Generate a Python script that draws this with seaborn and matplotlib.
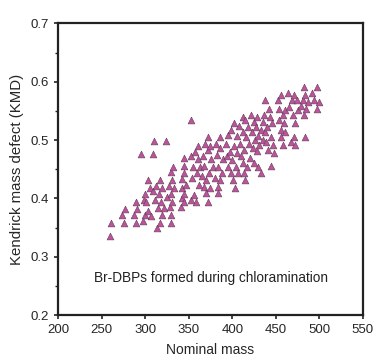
import matplotlib
matplotlib.use("Agg")
import matplotlib.pyplot as plt
import seaborn as sns
import pandas as pd
from matplotlib.ticker import MultipleLocator

# Nominal mass vs Kendrick mass defect
nominal_mass = [
    259, 261, 275, 273, 277, 289, 289, 287, 291, 297, 298, 300, 300, 303, 303, 305,
    301, 307, 309, 311, 312, 314, 315, 316, 317, 317, 318, 319, 319, 321, 325, 327,
    328, 329, 329, 330, 330, 331, 332, 331, 333,
    310, 324, 309, 295, 353,
    341, 342, 342, 344, 342, 344, 345, 345, 345, 347, 353, 352, 354, 355, 357, 356,
    358, 359, 360, 361, 362, 363, 365, 366, 367, 368, 369, 370, 370, 372, 372, 372,
    373, 374, 374, 376, 378, 380, 381, 382, 383, 384, 384, 386, 386, 386, 388, 389,
    393, 394, 395, 395, 397, 398, 399, 400, 401, 402, 402, 403, 404, 405, 405, 407,
    408, 409, 410, 412, 412, 412, 414, 414, 415, 415, 416, 417, 418, 419, 420, 422,
    423, 424, 425, 425, 426, 427, 428, 428, 430, 430, 431, 433, 433, 435, 435, 436,
    438, 438, 439, 440, 441, 442, 443, 444, 445, 446, 447, 448,
    453, 454, 454, 456, 456, 456, 458, 458, 459, 460, 461, 464, 465, 467, 469, 470,
    471, 471, 472, 472, 474, 475, 479, 481, 482, 482, 484, 485, 484, 487, 492, 494,
    497, 497, 500,
]
kmd = [
    0.336, 0.358, 0.358, 0.371, 0.381, 0.358, 0.394, 0.371, 0.381, 0.362, 0.398, 0.407,
    0.371, 0.379, 0.431, 0.417, 0.393, 0.369, 0.412, 0.398, 0.422, 0.349, 0.383, 0.407,
    0.358, 0.431, 0.393, 0.371, 0.417, 0.383, 0.403, 0.422, 0.386, 0.371, 0.446, 0.358,
    0.408, 0.431, 0.454, 0.394, 0.417,
    0.499, 0.499, 0.476, 0.476, 0.535,
    0.386, 0.400, 0.434, 0.455, 0.417, 0.469, 0.408, 0.394, 0.443, 0.423, 0.472, 0.398,
    0.435, 0.454, 0.480, 0.406, 0.394, 0.443, 0.489, 0.467, 0.423, 0.454, 0.439, 0.472,
    0.420, 0.455, 0.494, 0.409, 0.431, 0.394, 0.505, 0.483, 0.443, 0.417, 0.489, 0.467,
    0.454, 0.435, 0.494, 0.474, 0.420, 0.409, 0.454, 0.505, 0.431, 0.486, 0.443, 0.467,
    0.494, 0.472, 0.509, 0.454, 0.480, 0.443, 0.517, 0.466, 0.431, 0.489, 0.529, 0.418,
    0.454, 0.507, 0.477, 0.443, 0.524, 0.494, 0.472, 0.460, 0.540, 0.513, 0.444, 0.483,
    0.431, 0.534, 0.505, 0.454, 0.523, 0.494, 0.469, 0.543, 0.513, 0.486, 0.531, 0.460,
    0.500, 0.523, 0.482, 0.540, 0.454, 0.507, 0.491, 0.443, 0.517, 0.531, 0.500, 0.543,
    0.569, 0.514, 0.496, 0.523, 0.483, 0.554, 0.540, 0.455, 0.505, 0.529, 0.491, 0.477,
    0.569, 0.534, 0.554, 0.517, 0.506, 0.577, 0.543, 0.491, 0.529, 0.514, 0.551, 0.581,
    0.556, 0.497, 0.569, 0.543, 0.577, 0.506, 0.491, 0.529, 0.568, 0.551, 0.558, 0.568,
    0.591, 0.543, 0.506, 0.554, 0.577, 0.566, 0.581, 0.569, 0.591, 0.554, 0.566,
]

df = pd.DataFrame({"Nominal mass": nominal_mass, "KMD": kmd})

sns.set_style("ticks")
plt.rcParams["font.family"] = ["Liberation Sans", "DejaVu Sans"]

fig = plt.figure(figsize=(3.76, 3.57), dpi=100)
ax = fig.add_axes([0.155, 0.1176, 0.81, 0.817])

sns.scatterplot(data=df, x="Nominal mass", y="KMD", marker="^", s=24,
                color="#c0529d", edgecolor="#5a4252", linewidth=0.4, ax=ax)

ax.set_xlim(200, 550)
ax.set_ylim(0.2, 0.7)
ax.xaxis.set_major_locator(MultipleLocator(50))
ax.yaxis.set_major_locator(MultipleLocator(0.1))
ax.yaxis.set_minor_locator(MultipleLocator(0.05))
ax.tick_params(which="major", length=3.2, width=1.2, labelsize=9.5,
               color="#222222", pad=3.5)
ax.tick_params(which="minor", length=2, width=1.0, color="#222222")
for sp in ax.spines.values():
    sp.set_linewidth(1.6)
    sp.set_color("#222222")

ax.set_xlabel("Nominal mass", fontsize=10, labelpad=4.5)
ax.set_ylabel("Kendrick mass defect (KMD)", fontsize=10.8, labelpad=5)
ax.text(376, 0.263, "Br-DBPs formed during chloramination", fontsize=9.8,
        ha="center", va="center", color="#222222")

fig.savefig("out.png", dpi=100)
